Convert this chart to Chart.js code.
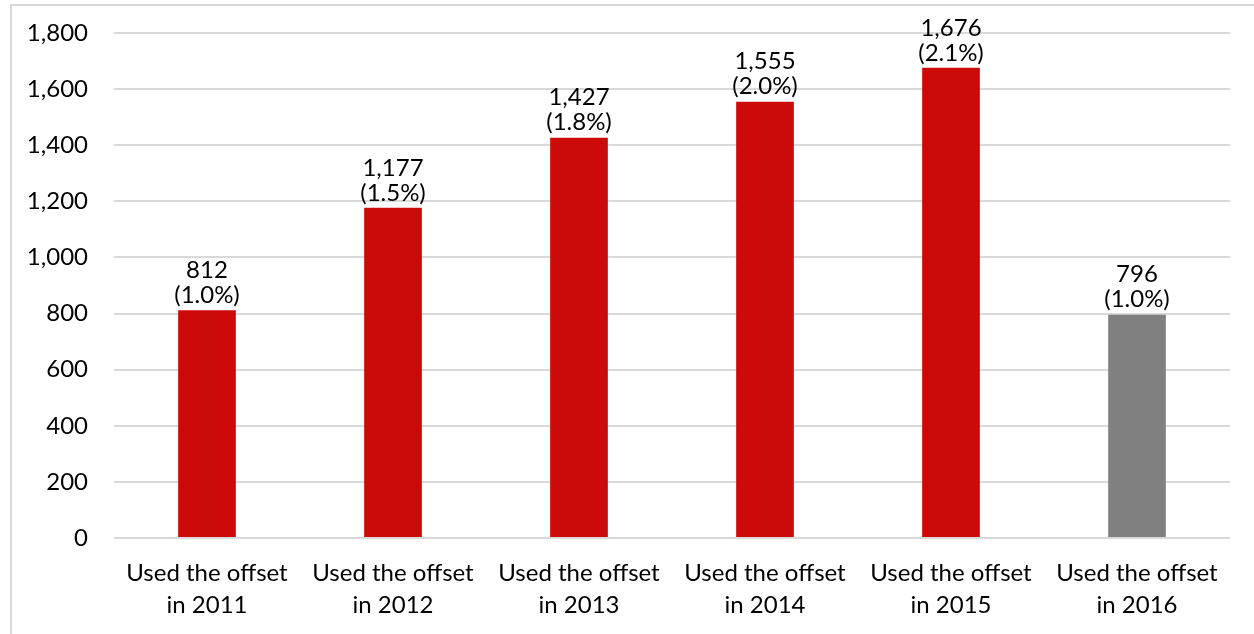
<!DOCTYPE html>
<html>
<head>
<meta charset="utf-8">
<script src="https://cdn.jsdelivr.net/npm/chart.js@4/dist/chart.umd.min.js"></script>
<style>
  html, body { margin: 0; padding: 0; background: #ffffff; overflow: hidden; }
  #wrap { position: relative; width: 1254px; height: 634px; }
  #frame { position: absolute; left: 10px; top: 4px; width: 1260px; height: 640px;
           border-left: 2px solid #d9d9d9; border-top: 2px solid #d9d9d9; box-sizing: border-box; }
  canvas { position: absolute; left: 0; top: 0; }
</style>
</head>
<body>
<div id="wrap">
  <div id="frame"></div>
  <canvas id="chart" width="1254" height="634"></canvas>
</div>
<script>
// Number of people who used the offset, by year
const years = ['2011', '2012', '2013', '2014', '2015', '2016'];
const categories = years.map(y => ['Used the offset', 'in ' + y]);
const users = [812, 1177, 1427, 1555, 1676, 796];
const shares = ['1.0%', '1.5%', '1.8%', '2.0%', '2.1%', '1.0%'];
const yTicks = [0, 200, 400, 600, 800, 1000, 1200, 1400, 1600, 1800];

const FONT = 'Lato, "Open Sans", sans-serif';
const FONT_SIZE = 24;
const barColors = users.map((_, i) => i === users.length - 1 ? '#808080' : '#cc0a0a');

// Two-line value labels above each bar: count, then share in parentheses
const valueLabels = {
  id: 'valueLabels',
  afterDatasetsDraw(chart) {
    const ctx = chart.ctx;
    const meta = chart.getDatasetMeta(0);
    ctx.save();
    ctx.font = FONT_SIZE + 'px ' + FONT;
    ctx.fillStyle = '#000000';
    ctx.textAlign = 'center';
    ctx.textBaseline = 'middle';
    meta.data.forEach((bar, i) => {
      const v = users[i].toLocaleString('en-US');
      ctx.fillText('(' + shares[i] + ')', bar.x, bar.y - 15);
      ctx.fillText(v, bar.x, bar.y - 40);
    });
    ctx.restore();
  }
};

new Chart(document.getElementById('chart'), {
  type: 'bar',
  data: {
    labels: categories,
    datasets: [{
      data: users,
      backgroundColor: barColors,
      borderWidth: 0,
      categoryPercentage: 1,
      barPercentage: 0.31
    }]
  },
  options: {
    responsive: false,
    animation: false,
    devicePixelRatio: 1,
    layout: { padding: { left: 0, right: 24, top: 33, bottom: 0 } },
    plugins: { legend: { display: false }, tooltip: { enabled: false } },
    scales: {
      x: {
        grid: { display: false },
        border: { display: false },
        ticks: {
          color: '#000000',
          font: { family: FONT, size: FONT_SIZE, lineHeight: 1.35 },
          padding: 11,
          maxRotation: 0,
          autoSkip: false
        },
        afterFit(axis) { axis.height = 96; }
      },
      y: {
        min: 0,
        max: 1800,
        afterBuildTicks(axis) { axis.ticks = yTicks.map(v => ({ value: v })); },
        grid: { color: '#d9d9d9', lineWidth: 2, drawTicks: false },
        border: { display: false },
        ticks: {
          color: '#000000',
          font: { family: FONT, size: FONT_SIZE },
          padding: 26,
          callback: v => v.toLocaleString('en-US')
        },
        afterFit(axis) {
          axis.width = 114;
          // keep the label gap horizontal only, so the plot top follows layout padding
          axis.paddingTop = 0;
          axis.paddingBottom = 0;
        }
      }
    }
  },
  plugins: [valueLabels]
});
</script>
</body>
</html>
